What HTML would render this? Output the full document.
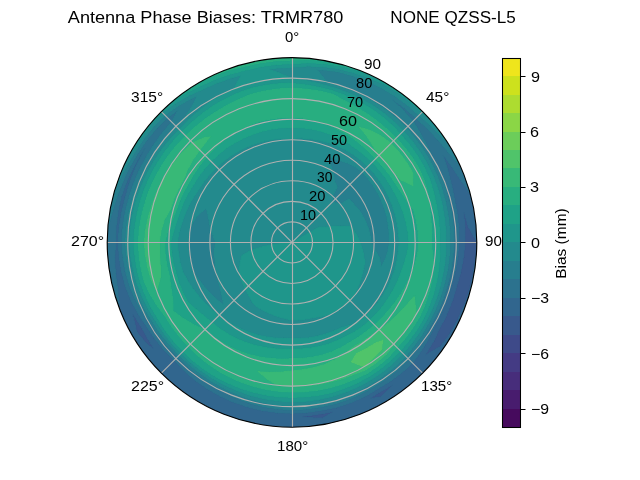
<!DOCTYPE html>
<html><head><meta charset="utf-8"><title>Antenna Phase Biases</title>
<style>
html,body{margin:0;padding:0;background:#fff;}
body{width:640px;height:480px;overflow:hidden;font-family:"Liberation Sans",sans-serif;}
svg{display:block;will-change:transform;}
text{font-family:"Liberation Sans",sans-serif;fill:#000;}
</style></head><body>
<svg width="640" height="480" viewBox="0 0 640 480">
<rect x="0" y="0" width="640" height="480" fill="#ffffff"/>
<defs><clipPath id="c"><circle cx="292.0" cy="242.4" r="184.8"/></clipPath></defs>
<g clip-path="url(#c)">
<circle cx="292.0" cy="242.4" r="184.8" fill="#238a8d"/>
<g shape-rendering="crispEdges" stroke-width="0.4" stroke-linejoin="round">
<path fill="#38598c" stroke="#38598c" d="M463.9 212.1L465.2 227.2L465.3 242.4L463.7 257.4L460.9 272.2L456.9 286.6L452.6 300.8L447.0 314.7L440.2 328.0L433.6 341.5L425.7 354.6L425.7 354.6L425.7 354.6L440.4 346.3L449.8 333.5L457.5 319.6L464.0 305.0L469.3 289.9L472.9 274.3L475.2 258.4L476.8 242.4L476.8 242.4L476.8 242.4L468.2 227.0L463.9 212.1L463.9 212.1ZM392.1 385.4L378.9 392.9L370.3 398.4L381.0 396.5L392.1 385.4L392.1 385.4ZM322.2 413.9L307.2 416.2L302.1 416.6L307.3 417.4L322.9 417.7L332.3 412.2ZM149.5 342.2L142.1 328.9L134.0 316.1L133.0 314.4L133.4 316.3L137.0 331.9L147.1 343.9L153.5 348.6Z"/>
<path fill="#31668e" stroke="#31668e" d="M443.2 155.1L447.9 169.7L451.7 184.3L454.6 198.8L457.4 213.2L459.0 227.8L459.3 242.4L458.0 256.9L455.4 271.2L451.7 285.2L447.4 299.0L441.9 312.3L435.2 325.1L429.0 338.3L421.5 351.1L412.7 363.1L401.7 373.1L389.7 381.9L377.0 389.6L364.2 397.2L350.5 403.0L336.3 407.6L321.6 410.5L306.9 412.7L292.0 413.6L277.1 412.8L262.3 410.7L247.8 407.3L233.7 402.5L220.2 396.4L207.3 389.1L195.2 380.7L184.1 371.0L174.2 360.2L163.7 350.0L154.5 338.7L146.4 326.5L138.1 314.2L131.1 301.0L125.4 287.0L121.5 272.5L119.0 257.5L117.8 242.4L119.0 227.3L121.4 212.3L125.1 197.7L129.3 183.2L134.7 169.1L141.3 155.4L144.8 148.6L140.6 155.0L133.1 168.3L126.7 182.2L121.4 196.7L118.2 211.7L116.3 227.0L116.0 242.4L115.0 257.9L115.7 273.5L117.9 289.0L119.1 305.3L119.5 308.6L124.5 320.5L132.0 334.8L140.6 348.4L150.4 361.2L161.3 373.1L173.2 384.0L186.0 393.8L199.6 402.4L213.9 409.9L228.8 416.1L244.2 420.9L259.9 424.4L275.9 426.5L292.0 427.2L308.1 426.5L324.1 424.4L339.8 420.9L355.2 416.1L370.1 409.9L384.4 402.4L398.0 393.8L410.8 384.0L422.7 373.1L433.6 361.2L443.4 348.4L452.0 334.8L459.5 320.5L465.7 305.6L470.5 290.2L474.0 274.5L476.1 258.5L476.8 242.4L475.2 258.4L472.9 274.3L469.3 289.9L464.0 305.0L457.5 319.6L449.8 333.5L440.4 346.3L425.7 354.6L425.7 354.6L425.7 354.6L433.6 341.5L440.2 328.0L447.0 314.7L452.6 300.8L456.9 286.6L460.9 272.2L463.7 257.4L465.3 242.4L465.2 227.2L463.9 212.1L463.9 212.1L463.9 212.1L468.2 227.0L476.8 242.4L476.1 226.3L474.0 210.3L470.5 194.6L470.5 194.6L461.0 180.9L452.2 167.7L443.2 155.1L443.2 155.1ZM392.1 385.4L392.1 385.4L381.0 396.5L370.3 398.4L378.9 392.9L392.1 385.4ZM332.3 412.2L322.9 417.7L307.3 417.4L302.1 416.6L307.2 416.2L322.2 413.9ZM153.5 348.6L147.1 343.9L137.0 331.9L133.4 316.3L133.0 314.4L134.0 316.1L142.1 328.9L149.5 342.2Z"/>
<path fill="#2c728e" stroke="#2c728e" d="M434.3 160.3L440.5 173.1L445.5 186.5L449.2 200.3L452.1 214.2L453.8 228.2L454.2 242.4L453.3 256.5L451.3 270.5L448.0 284.2L443.9 297.7L438.6 310.8L432.2 323.3L425.3 335.8L417.5 347.7L414.1 352.3L408.9 359.3L398.5 369.4L387.2 378.4L375.1 386.3L362.5 393.5L349.1 399.3L335.3 404.0L321.0 407.1L306.6 409.3L292.0 410.1L277.4 409.1L263.0 406.8L248.9 403.1L235.4 398.0L222.5 391.4L220.7 390.4L210.2 384.2L198.4 376.0L187.4 367.0L177.3 357.1L167.4 346.9L158.4 336.0L150.3 324.2L146.3 318.2L142.3 312.2L135.2 299.5L129.4 286.0L125.4 271.8L122.8 257.2L121.5 242.4L122.6 227.6L124.9 212.9L128.5 198.6L133.0 184.5L138.7 170.9L145.5 157.8L153.2 145.2L161.8 133.2L171.4 121.8L177.4 110.8L167.4 117.8L156.5 128.7L146.7 140.7L138.0 153.5L130.1 166.9L123.3 181.0L117.5 195.6L112.8 210.8L108.4 226.3L107.7 228.6L107.2 242.4L107.9 258.5L110.0 274.5L113.5 290.2L118.3 305.6L119.5 308.6L119.1 305.3L117.9 289.0L115.7 273.5L115.0 257.9L116.0 242.4L116.3 227.0L118.2 211.7L121.4 196.7L126.7 182.2L133.1 168.3L140.6 155.0L144.8 148.6L141.3 155.4L134.7 169.1L129.3 183.2L125.1 197.7L121.4 212.3L119.0 227.3L117.8 242.4L119.0 257.5L121.5 272.5L125.4 287.0L131.1 301.0L138.1 314.2L146.4 326.5L154.5 338.7L163.7 350.0L174.2 360.2L184.1 371.0L195.2 380.7L207.3 389.1L220.2 396.4L233.7 402.5L247.8 407.3L262.3 410.7L277.1 412.8L292.0 413.6L306.9 412.7L321.6 410.5L336.3 407.6L350.5 403.0L364.2 397.2L377.0 389.6L389.7 381.9L401.7 373.1L412.7 363.1L421.5 351.1L429.0 338.3L435.2 325.1L441.9 312.3L447.4 299.0L451.7 285.2L455.4 271.2L458.0 256.9L459.3 242.4L459.0 227.8L457.4 213.2L454.6 198.8L451.7 184.3L447.9 169.7L443.2 155.1L443.2 155.1L443.2 155.1L452.2 167.7L461.0 180.9L470.5 194.6L465.7 179.2L460.7 167.0L458.8 164.6L448.1 152.3L438.0 140.2L427.3 128.9L416.0 118.4L404.5 108.4L392.1 99.4L392.1 99.4L392.1 99.4L403.1 109.9L413.3 121.1L421.1 134.1L428.1 147.1L434.3 160.3Z"/>
<path fill="#277e8e" stroke="#277e8e" d="M332.4 202.0L338.5 203.4L340.2 204.1L349.0 198.7L351.3 200.9L355.5 205.7L359.8 210.8L363.4 216.4L366.4 222.5L368.7 228.9L370.4 235.5L371.5 242.4L373.9 248.8L374.8 249.6L379.8 257.9L381.3 266.3L381.3 266.3L381.3 266.3L385.4 258.9L387.8 250.8L389.1 242.4L389.0 233.9L388.2 225.4L386.7 217.0L384.3 208.8L381.2 200.8L377.4 193.1L372.9 185.7L367.8 178.8L362.2 172.2L355.1 167.2L347.5 163.2L339.2 160.6L331.3 158.1L327.4 157.0L329.6 161.8L333.1 171.3L333.1 171.3L334.8 181.3L337.5 186.7L336.4 189.4L332.7 196.2ZM215.6 270.2L215.2 263.0L214.3 256.1L214.3 249.2L215.6 242.4L212.6 235.5L210.6 231.7L210.1 228.0L208.7 220.1L207.1 211.5L206.0 208.6L203.8 210.3L196.8 216.9L191.9 224.8L190.2 229.0L189.4 233.4L188.2 242.4L188.7 251.4L189.9 260.4L191.9 269.2L194.1 273.3L197.0 277.0L202.6 284.1L208.0 290.9L214.1 296.9L220.6 302.3L223.3 304.2L222.6 300.6L220.8 292.2L219.1 284.5L216.9 277.4L216.1 273.8ZM334.3 84.4L347.9 88.9L360.9 94.6L373.4 101.4L385.3 109.2L396.4 118.0L406.6 127.8L415.7 138.6L423.9 150.1L431.0 162.2L437.0 174.8L441.9 187.9L445.5 201.3L448.3 214.8L449.8 228.6L450.1 242.4L449.5 256.2L447.7 269.9L444.7 283.3L440.8 296.6L435.7 309.4L429.6 321.8L422.7 333.9L414.8 345.4L406.0 356.4L395.9 366.2L384.9 375.1L373.2 383.1L360.8 389.9L347.8 395.7L334.3 400.3L320.4 403.6L306.3 405.8L292.0 406.7L277.7 405.4L263.7 402.9L250.0 399.3L236.7 394.4L223.9 388.5L211.6 381.6L200.0 373.7L189.2 365.0L179.1 355.3L169.5 345.2L160.7 334.3L152.9 322.7L145.4 310.7L138.9 298.1L133.3 284.9L133.3 284.9L129.3 271.1L126.6 256.9L125.2 242.4L126.2 227.9L128.5 213.6L132.0 199.5L136.7 185.9L142.6 172.7L149.7 160.3L149.7 160.3L157.6 148.3L166.5 137.1L176.4 126.8L182.8 119.7L185.7 115.8L194.1 102.5L196.5 96.3L191.4 98.7L177.8 106.3L165.0 115.4L154.0 126.6L144.1 138.9L135.4 152.0L127.1 165.5L119.8 179.7L113.5 194.6L113.5 194.6L110.0 210.3L107.9 226.3L107.7 228.6L108.4 226.3L112.8 210.8L117.5 195.6L123.3 181.0L130.1 166.9L138.0 153.5L146.7 140.7L156.5 128.7L167.4 117.8L177.4 110.8L171.4 121.8L161.8 133.2L153.2 145.2L145.5 157.8L138.7 170.9L133.0 184.5L128.5 198.6L124.9 212.9L122.6 227.6L121.5 242.4L122.8 257.2L125.4 271.8L129.4 286.0L135.2 299.5L142.3 312.2L146.3 318.2L150.3 324.2L158.4 336.0L167.4 346.9L177.3 357.1L187.4 367.0L198.4 376.0L210.2 384.2L220.7 390.4L222.5 391.4L235.4 398.0L248.9 403.1L263.0 406.8L277.4 409.1L292.0 410.1L306.6 409.3L321.0 407.1L335.3 404.0L349.1 399.3L362.5 393.5L375.1 386.3L387.2 378.4L398.5 369.4L408.9 359.3L414.1 352.3L417.5 347.7L425.3 335.8L432.2 323.3L438.6 310.8L443.9 297.7L448.0 284.2L451.3 270.5L453.3 256.5L454.2 242.4L453.8 228.2L452.1 214.2L449.2 200.3L445.5 186.5L440.5 173.1L434.3 160.3L434.3 160.3L428.1 147.1L421.1 134.1L413.3 121.1L403.1 109.9L392.1 99.4L392.1 99.4L392.1 99.4L404.5 108.4L416.0 118.4L427.3 128.9L438.0 140.2L448.1 152.3L458.8 164.6L460.7 167.0L459.5 164.3L452.0 150.0L448.7 144.5L442.1 137.3L430.8 125.9L418.9 115.5L407.1 105.2L394.5 96.0L381.2 87.9L367.1 81.4L352.6 76.0L337.7 71.8L322.4 70.0L317.6 69.8L321.5 75.1L327.6 82.0Z"/>
<path fill="#238a8d" stroke="#238a8d" d="M292.0 242.4L292.0 242.4L292.0 242.4L292.0 242.4L292.0 242.4L292.0 242.4L292.0 242.4L292.0 242.4L292.0 242.4L292.0 242.4L292.0 242.4L292.0 242.4L292.0 242.4L292.0 242.4L292.0 242.4L292.0 242.4L292.0 242.4L292.0 242.4L292.0 242.4L292.0 242.4L292.0 242.4L292.0 242.4L292.0 242.4L292.0 242.4L292.0 242.4L292.0 242.4L292.0 242.4L292.0 242.4L292.0 242.4L292.0 242.4L292.0 242.4L292.0 242.4L292.0 242.4L292.0 242.4L292.0 242.4L292.0 242.4L292.0 242.4L292.0 242.4L292.0 242.4L292.0 242.4L292.0 242.4L292.0 242.4L292.0 242.4L292.0 242.4L292.0 242.4L292.0 242.4L292.0 242.4L292.0 242.4L292.0 242.4L292.0 242.4L292.0 242.4L292.0 242.4L292.0 242.4L292.0 242.4L292.0 242.4L292.0 242.4L292.0 242.4L292.0 242.4L292.0 242.4L292.0 242.4L292.0 242.4L292.0 242.4L292.0 242.4L292.0 242.4L292.0 242.4L292.0 242.4L292.0 242.4L292.0 242.4L292.0 242.4L292.0 242.4L292.0 242.4L292.0 242.4L292.0 232.1L292.0 221.9L292.0 211.6L292.0 201.3L292.0 191.1L292.0 180.8L292.0 170.5L292.0 160.3L292.0 150.0L292.0 139.7L292.0 138.6L282.9 138.7L273.9 139.5L264.9 141.2L256.1 143.7L247.5 147.0L239.3 151.1L231.4 155.8L223.9 161.3L217.0 167.4L210.5 174.0L204.5 181.2L199.3 188.9L194.1 196.7L189.4 205.1L185.4 213.8L182.0 223.0L179.7 230.6L179.3 232.5L177.7 242.4L178.6 252.3L180.3 262.1L182.9 271.6L182.9 271.6L187.6 280.4L193.0 288.5L199.0 296.1L205.3 303.1L212.1 309.5L219.4 315.0L219.4 315.0L226.5 320.4L234.1 325.2L241.9 329.1L250.1 332.3L258.3 334.9L266.8 336.6L275.2 337.8L283.6 338.4L292.0 338.2L300.4 338.3L308.8 337.6L317.1 336.1L325.3 333.8L333.3 331.0L341.1 327.5L349.9 325.0L354.5 323.9L358.4 321.5L365.3 315.7L371.7 309.3L377.7 302.4L383.0 294.9L387.5 286.9L391.3 278.6L394.5 269.9L396.6 260.9L398.1 251.7L398.8 242.4L398.3 233.1L397.0 223.9L395.0 214.8L392.2 205.9L388.7 197.3L384.5 189.0L379.5 181.1L373.9 173.7L367.6 166.8L360.7 160.5L353.3 154.9L345.4 149.9L337.0 145.9L328.3 142.8L319.3 140.5L310.2 139.0L301.1 138.4L292.0 138.6L292.0 139.7L292.0 150.0L292.0 160.3L292.0 170.5L292.0 180.8L292.0 191.1L292.0 201.3L292.0 211.6L292.0 221.9L292.0 232.1L292.0 242.4ZM300.9 237.3L309.8 232.1L318.7 227.0L325.4 226.8L329.8 226.4L336.0 226.4L340.7 226.3L351.5 226.5L351.5 226.5L354.8 231.3L357.8 236.6L360.5 242.4L362.4 248.6L363.3 251.2L363.7 255.0L365.0 262.0L363.8 268.5L362.2 275.1L360.3 281.8L357.7 288.4L354.9 295.2L354.9 295.2L350.6 301.0L345.1 305.7L339.3 309.9L333.1 313.5L333.1 313.5L326.1 315.6L319.2 317.1L312.3 318.1L305.6 319.4L298.8 320.1L292.0 320.3L285.3 318.9L278.8 317.1L272.6 314.9L266.6 312.3L260.8 309.3L255.3 305.9L252.4 302.4L251.3 300.5L248.0 294.8L245.0 289.4L242.6 283.8L240.5 278.5L238.7 273.2L238.7 273.2L239.4 266.9L240.3 261.2L241.3 256.0L242.2 254.9L251.6 249.8L253.1 249.3L261.5 246.6L271.6 244.5L279.0 243.5L281.8 243.2L292.0 242.4L292.0 242.4L292.0 242.4L292.0 242.4L292.0 242.4L292.0 242.4L292.0 242.4L292.0 242.4L292.0 242.4L292.0 242.4L292.0 242.4L292.0 242.4L292.0 242.4L292.0 242.4L292.0 242.4L292.0 242.4L292.0 242.4L292.0 242.4L292.0 242.4L292.0 242.4L292.0 242.4L292.0 242.4L292.0 242.4L292.0 242.4L292.0 242.4L292.0 242.4L292.0 242.4L292.0 242.4L292.0 242.4L292.0 242.4L292.0 242.4L292.0 242.4L292.0 242.4L292.0 242.4L292.0 242.4L292.0 242.4L292.0 242.4L292.0 242.4L292.0 242.4L292.0 242.4L292.0 242.4ZM332.7 196.2L336.4 189.4L337.5 186.7L334.8 181.3L333.1 171.3L333.1 171.3L329.6 161.8L327.4 157.0L331.3 158.1L339.2 160.6L347.5 163.2L355.1 167.2L362.2 172.2L367.8 178.8L372.9 185.7L377.4 193.1L381.2 200.8L384.3 208.8L386.7 217.0L388.2 225.4L389.0 233.9L389.1 242.4L387.8 250.8L385.4 258.9L381.3 266.3L381.3 266.3L381.3 266.3L379.8 257.9L374.8 249.6L373.9 248.8L371.5 242.4L370.4 235.5L368.7 228.9L366.4 222.5L363.4 216.4L359.8 210.8L355.5 205.7L351.3 200.9L349.0 198.7L340.2 204.1L338.5 203.4L332.4 202.0ZM216.1 273.8L216.9 277.4L219.1 284.5L220.8 292.2L222.6 300.6L223.3 304.2L220.6 302.3L214.1 296.9L208.0 290.9L202.6 284.1L197.0 277.0L194.1 273.3L191.9 269.2L189.9 260.4L188.7 251.4L188.2 242.4L189.4 233.4L190.2 229.0L191.9 224.8L196.8 216.9L203.8 210.3L206.0 208.6L207.1 211.5L208.7 220.1L210.1 228.0L210.6 231.7L212.6 235.5L215.6 242.4L214.3 249.2L214.3 256.1L215.2 263.0L215.6 270.2ZM446.0 242.4L446.0 242.4L445.7 255.8L444.1 269.2L441.4 282.4L437.7 295.4L432.9 308.1L426.9 320.3L420.0 332.0L412.1 343.2L403.3 353.7L393.5 363.3L382.8 372.1L371.4 379.9L359.2 386.5L346.5 392.1L333.3 396.5L319.7 399.6L305.9 401.5L292.0 402.2L278.1 401.2L264.4 399.1L250.9 395.8L237.8 391.2L225.2 385.7L213.1 379.1L201.6 371.5L190.9 362.9L180.9 353.5L171.5 343.5L163.0 332.7L155.5 321.2L148.3 309.4L142.0 297.0L136.8 284.0L133.1 270.4L130.5 256.5L129.1 242.4L130.1 228.2L132.4 214.3L135.8 200.5L140.5 187.2L146.2 174.4L153.0 162.2L160.7 150.5L169.4 139.5L179.0 129.4L188.7 119.3L199.3 110.0L210.6 101.4L222.9 94.1L233.1 89.0L235.1 86.1L240.6 75.6L232.1 77.9L217.6 82.9L203.5 89.2L189.2 95.6L175.5 103.6L162.5 112.9L151.5 124.5L141.6 137.1L132.7 150.5L126.7 159.8L124.5 164.3L118.3 179.2L113.5 194.6L119.8 179.7L127.1 165.5L135.4 152.0L144.1 138.9L154.0 126.6L165.0 115.4L177.8 106.3L191.4 98.7L196.5 96.3L194.1 102.5L185.7 115.8L182.8 119.7L176.4 126.8L166.5 137.1L157.6 148.3L149.7 160.3L149.7 160.3L142.6 172.7L136.7 185.9L132.0 199.5L128.5 213.6L126.2 227.9L125.2 242.4L126.6 256.9L129.3 271.1L133.3 284.9L133.3 284.9L138.9 298.1L145.4 310.7L152.9 322.7L160.7 334.3L169.5 345.2L179.1 355.3L189.2 365.0L200.0 373.7L211.6 381.6L223.9 388.5L236.7 394.4L250.0 399.3L263.7 402.9L277.7 405.4L292.0 406.7L306.3 405.8L320.4 403.6L334.3 400.3L347.8 395.7L360.8 389.9L373.2 383.1L384.9 375.1L395.9 366.2L406.0 356.4L414.8 345.4L422.7 333.9L429.6 321.8L435.7 309.4L440.8 296.6L444.7 283.3L447.7 269.9L449.5 256.2L450.1 242.4L449.8 228.6L448.3 214.8L445.5 201.3L441.9 187.9L437.0 174.8L431.0 162.2L423.9 150.1L415.7 138.6L406.6 127.8L396.4 118.0L385.3 109.2L373.4 101.4L360.9 94.6L347.9 88.9L334.3 84.4L327.6 82.0L321.5 75.1L317.6 69.8L322.4 70.0L337.7 71.8L352.6 76.0L367.1 81.4L381.2 87.9L394.5 96.0L407.1 105.2L418.9 115.5L430.8 125.9L442.1 137.3L448.7 144.5L443.4 136.4L433.6 123.6L429.3 118.7L421.8 112.6L409.8 102.0L396.9 92.5L383.3 84.2L368.6 78.1L353.7 73.0L338.5 69.0L322.9 66.9L307.4 66.4L292.0 67.5L292.0 67.9L292.0 78.1L292.0 78.1L306.2 80.4L320.0 83.5L333.5 87.4L346.7 92.0L359.5 97.7L371.7 104.4L383.1 112.3L393.8 121.1L403.6 130.8L412.6 141.2L420.6 152.3L427.7 164.1L433.6 176.4L438.3 189.2L441.9 202.2L444.4 215.5L445.8 228.9L446.0 242.4ZM292.0 78.1L292.0 78.1L292.0 67.9L292.0 67.5L276.8 68.4L269.2 69.4L277.1 71.9L292.0 78.1Z"/>
<path fill="#1f968b" stroke="#1f968b" d="M292.0 242.4L292.0 242.4L292.0 242.4L292.0 242.4L292.0 242.4L292.0 242.4L292.0 242.4L292.0 242.4L292.0 242.4L292.0 242.4L292.0 242.4L292.0 242.4L292.0 242.4L292.0 242.4L292.0 242.4L292.0 242.4L292.0 242.4L292.0 242.4L292.0 242.4L292.0 242.4L292.0 242.4L292.0 242.4L292.0 242.4L292.0 242.4L292.0 242.4L292.0 242.4L292.0 242.4L292.0 242.4L292.0 242.4L292.0 242.4L292.0 242.4L292.0 242.4L292.0 242.4L292.0 242.4L292.0 242.4L292.0 242.4L292.0 242.4L292.0 242.4L292.0 242.4L292.0 242.4L292.0 242.4L281.8 243.2L279.0 243.5L271.6 244.5L261.5 246.6L253.1 249.3L251.6 249.8L242.2 254.9L241.3 256.0L240.3 261.2L239.4 266.9L238.7 273.2L238.7 273.2L240.5 278.5L242.6 283.8L245.0 289.4L248.0 294.8L251.3 300.5L252.4 302.4L255.3 305.9L260.8 309.3L266.6 312.3L272.6 314.9L278.8 317.1L285.3 318.9L292.0 320.3L298.8 320.1L305.6 319.4L312.3 318.1L319.2 317.1L326.1 315.6L333.1 313.5L333.1 313.5L339.3 309.9L345.1 305.7L350.6 301.0L354.9 295.2L354.9 295.2L357.7 288.4L360.3 281.8L362.2 275.1L363.8 268.5L365.0 262.0L363.7 255.0L363.3 251.2L362.4 248.6L360.5 242.4L357.8 236.6L354.8 231.3L351.5 226.5L351.5 226.5L340.7 226.3L336.0 226.4L329.8 226.4L325.4 226.8L318.7 227.0L309.8 232.1L300.9 237.3ZM349.9 325.0L341.1 327.5L333.3 331.0L325.3 333.8L317.1 336.1L308.8 337.6L300.4 338.3L292.0 338.2L283.6 338.4L275.2 337.8L266.8 336.6L258.3 334.9L250.1 332.3L241.9 329.1L234.1 325.2L226.5 320.4L219.4 315.0L219.4 315.0L212.1 309.5L205.3 303.1L199.0 296.1L193.0 288.5L187.6 280.4L182.9 271.6L182.9 271.6L180.3 262.1L178.6 252.3L177.7 242.4L179.3 232.5L179.7 230.6L182.0 223.0L185.4 213.8L189.4 205.1L194.1 196.7L199.3 188.9L204.5 181.2L210.5 174.0L217.0 167.4L223.9 161.3L231.4 155.8L239.3 151.1L247.5 147.0L256.1 143.7L264.9 141.2L273.9 139.5L282.9 138.7L292.0 138.6L292.0 129.5L292.0 127.6L282.0 128.0L272.1 129.3L262.3 131.5L252.8 134.6L243.5 138.5L234.7 143.1L226.3 148.6L218.5 154.8L211.2 161.6L204.6 169.1L198.6 177.0L193.4 185.4L188.1 194.0L183.7 203.0L180.1 212.4L176.7 222.1L173.7 232.1L170.9 242.4L171.8 252.9L173.6 263.3L176.3 273.4L179.4 283.4L183.4 293.0L188.3 302.3L196.4 309.3L204.3 316.0L212.1 322.3L212.1 322.3L219.8 328.4L228.0 333.8L236.6 338.4L245.5 342.1L254.7 344.9L264.0 347.0L273.3 348.4L282.7 349.0L292.0 348.8L301.3 348.7L310.6 347.8L319.8 346.1L328.8 343.6L337.6 340.2L346.1 336.1L354.5 331.7L362.4 326.4L369.7 320.1L376.5 313.3L382.7 305.9L388.2 298.0L393.2 289.6L397.5 280.8L401.1 271.6L401.1 271.6L404.5 262.2L407.1 252.5L408.7 242.4L407.7 232.3L405.8 222.3L403.1 212.6L399.3 203.3L395.1 194.3L390.2 185.7L384.8 177.4L378.6 169.7L371.9 162.5L364.7 155.8L357.0 149.6L348.8 144.0L340.1 139.2L331.1 135.0L321.7 131.7L311.9 129.4L302.0 128.1L292.0 127.6L292.0 129.5L292.0 138.6L301.1 138.4L310.2 139.0L319.3 140.5L328.3 142.8L337.0 145.9L345.4 149.9L353.3 154.9L360.7 160.5L367.6 166.8L373.9 173.7L379.5 181.1L384.5 189.0L388.7 197.3L392.2 205.9L395.0 214.8L397.0 223.9L398.3 233.1L398.8 242.4L398.1 251.7L396.6 260.9L394.5 269.9L391.3 278.6L387.5 286.9L383.0 294.9L377.7 302.4L371.7 309.3L365.3 315.7L358.4 321.5L354.5 323.9ZM400.5 133.9L409.3 144.0L417.1 154.8L424.0 166.2L429.5 178.3L433.6 190.9L436.4 203.7L438.6 216.5L439.7 229.5L439.6 242.4L440.0 255.3L439.1 268.3L437.0 281.2L433.8 294.0L429.4 306.5L423.9 318.5L417.1 330.0L409.3 340.8L400.6 351.0L393.3 358.4L391.1 360.5L380.7 369.1L369.6 376.7L357.6 383.1L345.2 388.4L332.3 392.7L319.0 395.6L305.5 397.2L292.0 397.7L278.5 397.1L265.1 395.2L251.9 392.2L239.0 388.1L226.5 382.8L214.6 376.5L203.2 369.2L192.6 360.8L182.7 351.7L173.6 341.7L165.4 331.1L158.1 319.7L151.2 308.1L145.2 295.8L140.2 283.1L136.8 269.8L134.6 256.2L133.5 242.4L134.5 228.6L136.6 215.0L139.9 201.7L144.3 188.7L149.8 176.1L156.3 164.1L163.8 152.6L172.2 141.9L181.5 131.9L191.3 122.4L201.8 113.6L213.0 105.6L225.0 98.8L237.6 92.9L250.7 88.1L264.3 85.2L278.1 83.5L292.0 83.0L292.0 78.1L292.0 78.1L277.1 71.9L269.2 69.4L276.8 68.4L292.0 67.5L292.0 64.0L276.5 64.8L261.1 66.9L245.9 70.4L230.8 74.2L216.0 79.3L201.6 85.8L187.1 92.6L173.2 100.8L173.2 100.8L161.3 111.7L150.4 123.6L140.6 136.4L132.0 150.0L126.7 159.8L132.7 150.5L141.6 137.1L151.5 124.5L162.5 112.9L175.5 103.6L189.2 95.6L203.5 89.2L217.6 82.9L232.1 77.9L240.6 75.6L235.1 86.1L233.1 89.0L222.9 94.1L210.6 101.4L199.3 110.0L188.7 119.3L179.0 129.4L169.4 139.5L160.7 150.5L153.0 162.2L146.2 174.4L140.5 187.2L135.8 200.5L132.4 214.3L130.1 228.2L129.1 242.4L130.5 256.5L133.1 270.4L136.8 284.0L142.0 297.0L148.3 309.4L155.5 321.2L163.0 332.7L171.5 343.5L180.9 353.5L190.9 362.9L201.6 371.5L213.1 379.1L225.2 385.7L237.8 391.2L250.9 395.8L264.4 399.1L278.1 401.2L292.0 402.2L305.9 401.5L319.7 399.6L333.3 396.5L346.5 392.1L359.2 386.5L371.4 379.9L382.8 372.1L393.5 363.3L403.3 353.7L412.1 343.2L420.0 332.0L426.9 320.3L432.9 308.1L437.7 295.4L441.4 282.4L444.1 269.2L445.7 255.8L446.0 242.4L446.0 242.4L446.0 242.4L445.8 228.9L444.4 215.5L441.9 202.2L438.3 189.2L433.6 176.4L427.7 164.1L420.6 152.3L412.6 141.2L403.6 130.8L393.8 121.1L383.1 112.3L371.7 104.4L359.5 97.7L346.7 92.0L333.5 87.4L320.0 83.5L306.2 80.4L292.0 78.1L292.0 83.0L305.8 84.6L319.4 87.1L332.7 90.5L345.6 95.1L358.0 100.8L369.9 107.5L381.0 115.3L391.2 124.1L396.0 128.9ZM307.4 66.4L322.9 66.9L338.5 69.0L353.7 73.0L368.6 78.1L383.3 84.2L396.9 92.5L409.8 102.0L421.8 112.6L429.3 118.7L422.7 111.7L410.8 100.8L398.0 91.0L384.4 82.4L370.1 74.9L367.8 73.9L354.8 69.9L339.2 66.2L323.5 63.9L307.7 63.1L292.0 64.0L292.0 67.5Z"/>
<path fill="#1fa287" stroke="#1fa287" d="M397.5 280.8L393.2 289.6L388.2 298.0L382.7 305.9L376.5 313.3L369.7 320.1L362.4 326.4L354.5 331.7L346.1 336.1L337.6 340.2L328.8 343.6L319.8 346.1L310.6 347.8L301.3 348.7L292.0 348.8L282.7 349.0L273.3 348.4L264.0 347.0L254.7 344.9L245.5 342.1L236.6 338.4L228.0 333.8L219.8 328.4L212.1 322.3L212.1 322.3L204.3 316.0L196.4 309.3L188.3 302.3L183.4 293.0L179.4 283.4L176.3 273.4L173.6 263.3L171.8 252.9L170.9 242.4L173.7 232.1L176.7 222.1L180.1 212.4L183.7 203.0L188.1 194.0L193.4 185.4L198.6 177.0L204.6 169.1L211.2 161.6L218.5 154.8L226.3 148.6L234.7 143.1L243.5 138.5L252.8 134.6L262.3 131.5L272.1 129.3L282.0 128.0L292.0 127.6L292.0 119.2L292.0 117.5L281.1 118.0L270.3 119.4L259.7 121.7L249.5 125.6L239.7 130.3L230.4 135.7L230.4 135.7L221.9 142.3L214.0 149.5L206.7 157.1L200.1 165.3L194.3 174.0L189.1 183.0L184.0 192.0L179.6 201.5L176.2 211.4L172.1 221.3L169.7 227.4L167.9 231.5L165.0 242.4L165.5 253.5L167.0 264.4L169.5 275.2L171.1 286.4L172.8 298.0L173.4 303.6L173.5 310.8L181.0 316.6L183.6 318.3L194.1 324.5L204.9 329.5L204.9 329.5L213.2 336.3L222.1 342.2L231.4 347.3L241.1 351.5L251.1 354.7L261.3 357.0L271.6 358.3L281.8 358.8L292.0 358.4L302.1 358.1L312.2 356.9L322.1 354.8L331.7 351.5L341.0 347.4L349.6 342.2L358.3 337.0L366.4 331.1L374.3 324.7L381.7 317.7L388.6 310.0L395.0 301.9L400.9 293.2L406.3 284.0L411.0 274.3L411.0 274.3L414.8 264.0L417.3 253.4L418.6 242.4L417.8 231.4L415.9 220.5L413.2 209.9L409.4 205.2L406.4 200.7L400.5 191.8L394.7 183.1L388.9 174.5L382.4 166.5L375.3 159.1L368.2 151.6L360.5 144.6L352.2 138.1L343.2 132.5L333.8 127.6L323.9 123.4L323.9 123.4L313.5 120.5L302.8 118.5L292.0 117.5L292.0 119.2L292.0 127.6L302.0 128.1L311.9 129.4L321.7 131.7L331.1 135.0L340.1 139.2L348.8 144.0L357.0 149.6L364.7 155.8L371.9 162.5L378.6 169.7L384.8 177.4L390.2 185.7L395.1 194.3L399.3 203.3L403.1 212.6L405.8 222.3L407.7 232.3L408.7 242.4L407.1 252.5L404.5 262.2L401.1 271.6L401.1 271.6ZM429.6 205.5L431.2 217.9L431.9 230.2L431.6 242.4L433.0 254.7L434.1 263.8L433.9 267.4L432.3 280.0L429.4 292.4L425.4 304.6L420.2 316.4L413.5 327.5L405.9 338.0L397.4 347.8L388.7 357.6L378.5 366.0L367.7 373.5L355.7 379.1L343.5 384.0L331.0 387.8L318.1 390.5L305.1 392.0L292.0 392.4L278.9 391.6L266.0 389.7L253.3 386.7L241.0 382.5L229.1 377.3L217.8 371.0L207.1 363.7L197.1 355.5L187.9 346.5L179.3 337.0L171.5 326.8L164.6 316.0L156.6 305.5L149.7 294.2L144.0 282.1L140.8 269.1L138.8 255.8L138.0 242.4L139.0 229.0L141.2 215.8L144.7 202.9L148.9 190.3L154.3 178.2L160.7 166.6L168.0 155.6L176.2 145.3L185.3 135.7L195.0 126.7L205.3 118.6L216.3 111.3L227.7 104.5L239.7 98.7L252.1 93.6L252.1 93.6L265.2 90.6L278.5 88.6L292.0 87.9L292.0 83.0L278.1 83.5L264.3 85.2L250.7 88.1L237.6 92.9L225.0 98.8L213.0 105.6L201.8 113.6L191.3 122.4L181.5 131.9L172.2 141.9L163.8 152.6L156.3 164.1L149.8 176.1L144.3 188.7L139.9 201.7L136.6 215.0L134.5 228.6L133.5 242.4L134.6 256.2L136.8 269.8L140.2 283.1L145.2 295.8L151.2 308.1L158.1 319.7L165.4 331.1L173.6 341.7L182.7 351.7L192.6 360.8L203.2 369.2L214.6 376.5L226.5 382.8L239.0 388.1L251.9 392.2L265.1 395.2L278.5 397.1L292.0 397.7L305.5 397.2L319.0 395.6L332.3 392.7L345.2 388.4L357.6 383.1L369.5 376.7L380.7 369.1L391.1 360.5L393.3 358.4L400.6 351.0L409.3 340.8L417.1 330.0L423.9 318.5L429.4 306.5L433.8 294.0L437.0 281.2L439.1 268.3L440.0 255.3L439.6 242.4L439.7 229.5L438.6 216.5L436.4 203.7L433.6 190.9L429.5 178.3L424.0 166.2L417.1 154.8L409.3 144.0L400.5 133.9L396.0 128.9L391.2 124.1L381.0 115.3L369.9 107.5L358.0 100.8L345.6 95.1L332.7 90.5L319.4 87.1L305.8 84.6L292.0 83.0L292.0 87.9L305.4 88.7L318.8 90.6L331.9 93.6L331.9 93.6L343.9 99.8L355.5 106.2L366.7 113.1L377.2 120.7L387.2 128.9L396.5 137.9L405.1 147.5L412.8 157.8L419.6 168.7L424.6 180.6L428.1 192.9L429.6 201.0ZM307.7 63.1L323.5 63.9L339.2 66.2L354.8 69.9L367.8 73.9L355.2 68.7L339.8 63.9L330.4 61.6L324.0 60.8L308.0 59.8L292.0 60.4L292.0 64.0ZM187.1 92.6L201.6 85.8L216.0 79.3L230.8 74.2L245.9 70.4L261.1 66.9L276.5 64.8L292.0 64.0L292.0 60.4L276.1 61.1L260.4 63.2L244.9 66.6L229.4 70.5L214.3 75.7L199.6 82.4L199.6 82.4L186.0 91.0L173.2 100.8Z"/>
<path fill="#28ae80" stroke="#28ae80" d="M333.8 127.6L343.2 132.5L352.2 138.1L360.5 144.6L368.2 151.6L375.3 159.1L382.4 166.5L388.9 174.5L394.7 183.1L400.5 191.8L406.4 200.7L409.4 205.2L413.2 209.9L415.9 220.5L417.8 231.4L418.6 242.4L417.3 253.4L414.8 264.0L411.0 274.3L411.0 274.3L406.3 284.0L400.9 293.2L395.0 301.9L388.6 310.0L381.7 317.7L374.3 324.7L366.4 331.1L358.3 337.0L349.6 342.2L341.0 347.4L331.7 351.5L322.1 354.8L312.2 356.9L302.1 358.1L292.0 358.4L281.8 358.8L271.6 358.3L261.3 357.0L251.1 354.7L241.1 351.5L231.4 347.3L222.1 342.2L213.2 336.3L204.9 329.5L204.9 329.5L194.1 324.5L183.6 318.3L181.0 316.6L173.5 310.8L173.4 303.6L172.8 298.0L171.1 286.4L169.5 275.2L167.0 264.4L165.5 253.5L165.0 242.4L167.9 231.5L169.7 227.4L172.1 221.3L176.2 211.4L179.6 201.5L184.0 192.0L189.1 183.0L194.3 174.0L200.1 165.3L206.7 157.1L214.0 149.5L221.9 142.3L230.4 135.7L230.4 135.7L239.7 130.3L249.5 125.6L259.7 121.7L270.3 119.4L281.1 118.0L292.0 117.5L292.0 108.9L292.0 98.7L292.0 88.4L292.0 87.9L278.5 88.6L265.2 90.6L252.1 93.6L252.1 93.6L239.7 98.7L227.7 104.5L216.3 111.3L205.3 118.6L195.0 126.7L185.3 135.7L176.2 145.3L168.0 155.6L160.7 166.6L154.3 178.2L148.9 190.3L144.7 202.9L141.2 215.8L139.0 229.0L138.0 242.4L138.8 255.8L140.8 269.1L144.0 282.1L149.7 294.2L156.6 305.5L164.6 316.0L171.5 326.8L179.3 337.0L187.9 346.5L197.1 355.5L207.1 363.7L217.8 371.0L229.1 377.3L241.0 382.5L253.3 386.7L266.0 389.7L278.9 391.6L292.0 392.4L305.1 392.0L318.1 390.5L331.0 387.8L343.5 384.0L355.7 379.1L367.7 373.5L378.5 366.0L388.7 357.6L397.4 347.8L405.9 338.0L413.5 327.5L420.2 316.4L425.4 304.6L429.4 292.4L432.3 280.0L433.9 267.4L434.1 263.8L433.0 254.7L431.6 242.4L431.9 230.2L431.2 217.9L429.6 205.5L429.6 201.0L428.1 192.9L424.6 180.6L419.6 168.7L412.8 157.8L405.1 147.5L396.5 137.9L387.2 128.9L377.2 120.7L366.7 113.1L355.5 106.2L343.9 99.8L331.9 93.6L331.9 93.6L318.8 90.6L305.4 88.7L292.0 87.9L292.0 88.4L292.0 98.7L292.0 108.9L292.0 117.5L302.8 118.5L313.5 120.5L323.9 123.4L323.9 123.4ZM375.8 152.1L372.8 146.1L366.5 136.0L358.7 126.8L370.6 130.1L381.4 135.9L391.2 143.2L399.4 152.3L406.7 162.1L413.1 172.5L413.0 186.0L400.2 179.9L393.4 171.4L389.7 167.4L386.2 163.3L378.8 155.6ZM379.1 329.5L379.1 329.5L388.0 323.0L396.4 315.5L404.3 307.2L412.1 298.4L414.3 295.8L415.0 299.8L416.5 314.3L416.5 314.3L410.0 325.0L402.6 335.2L394.3 344.7L386.3 354.8L376.4 362.9L365.8 370.2L353.7 374.8L341.8 379.2L329.5 382.3L317.1 384.9L304.6 386.4L292.0 386.7L279.5 385.7L277.0 385.3L267.8 379.9L257.5 371.3L269.1 372.2L280.7 371.9L292.0 370.7L303.1 369.4L314.0 367.3L324.6 364.2L334.6 359.5L344.1 354.1L344.1 354.1L352.5 347.1L361.6 341.9L370.4 335.8ZM160.6 265.6L160.6 265.6L160.6 277.6L156.9 291.6L151.0 280.2L147.5 267.9L145.2 255.2L144.0 242.4L145.4 229.6L148.0 217.0L151.7 204.8L156.0 192.9L161.3 181.4L167.5 170.5L167.5 170.5L174.9 160.4L183.1 151.0L192.2 142.6L204.0 137.5L210.8 136.5L207.0 141.1L200.0 150.4L193.4 159.6L187.9 169.5L183.8 179.9L178.5 189.5L174.0 199.5L170.5 209.8L164.6 219.9L161.3 231.0L159.6 242.4L159.6 254.0ZM308.0 59.8L324.0 60.8L330.4 61.6L324.1 60.4L308.1 58.3L292.0 57.6L292.0 60.4ZM214.3 75.7L229.4 70.5L244.9 66.6L260.4 63.2L276.1 61.1L292.0 60.4L292.0 57.6L275.9 58.3L259.9 60.4L244.2 63.9L228.8 68.7L213.9 74.9L199.6 82.4Z"/>
<path fill="#38b977" stroke="#38b977" d="M378.8 155.6L386.2 163.3L389.7 167.4L393.4 171.4L400.2 179.9L413.0 186.0L413.1 172.5L406.7 162.1L399.4 152.3L391.2 143.2L381.4 135.9L370.6 130.1L358.7 126.8L366.5 136.0L372.8 146.1L375.8 152.1ZM370.4 335.8L361.6 341.9L352.5 347.1L344.1 354.1L344.1 354.1L334.6 359.5L324.6 364.2L314.0 367.3L303.1 369.4L292.0 370.7L280.7 371.9L269.1 372.2L257.5 371.3L267.8 379.9L277.0 385.3L279.5 385.7L292.0 386.7L304.6 386.4L317.1 384.9L329.5 382.3L341.8 379.2L353.7 374.8L365.8 370.2L376.4 362.9L386.3 354.8L394.3 344.7L402.6 335.2L410.0 325.0L416.5 314.3L416.5 314.3L415.0 299.8L414.3 295.8L412.1 298.4L404.3 307.2L396.4 315.5L388.0 323.0L379.1 329.5L379.1 329.5ZM383.0 340.0L381.8 349.4L373.4 358.6L363.9 366.9L351.0 362.1L356.2 353.5L366.2 348.4L376.0 342.5ZM159.6 254.0L159.6 242.4L161.3 231.0L164.6 219.9L170.5 209.8L174.0 199.5L178.5 189.5L183.8 179.9L187.9 169.5L193.4 159.6L200.0 150.4L207.0 141.1L210.8 136.5L204.0 137.5L192.2 142.6L183.1 151.0L174.9 160.4L167.5 170.5L167.5 170.5L161.3 181.4L156.0 192.9L151.7 204.8L148.0 217.0L145.4 229.6L144.0 242.4L145.2 255.2L147.5 267.9L151.0 280.2L156.9 291.6L160.6 277.6L160.6 265.6L160.6 265.6Z"/>
<path fill="#50c46a" stroke="#50c46a" d="M376.0 342.5L366.2 348.4L356.2 353.5L351.0 362.1L363.9 366.9L373.4 358.6L381.8 349.4L383.0 340.0Z"/>
</g>
<g fill="none" stroke="#b0b0b0" stroke-width="1.11">
<circle cx="292.0" cy="242.4" r="20.53"/>
<circle cx="292.0" cy="242.4" r="41.07"/>
<circle cx="292.0" cy="242.4" r="61.60"/>
<circle cx="292.0" cy="242.4" r="82.13"/>
<circle cx="292.0" cy="242.4" r="102.67"/>
<circle cx="292.0" cy="242.4" r="123.20"/>
<circle cx="292.0" cy="242.4" r="143.73"/>
<circle cx="292.0" cy="242.4" r="164.27"/>
<line x1="292.50" y1="242.40" x2="292.50" y2="57.60"/>
<line x1="292.00" y1="242.40" x2="422.67" y2="111.73"/>
<line x1="292.00" y1="242.50" x2="476.80" y2="242.50"/>
<line x1="292.00" y1="242.40" x2="422.67" y2="373.07"/>
<line x1="292.50" y1="242.40" x2="292.50" y2="427.20"/>
<line x1="292.00" y1="242.40" x2="161.33" y2="373.07"/>
<line x1="292.00" y1="242.50" x2="107.20" y2="242.50"/>
<line x1="292.00" y1="242.40" x2="161.33" y2="111.73"/>
</g>
</g>
<text x="285.00" y="42.00" font-size="14.1" textLength="14.28" lengthAdjust="spacingAndGlyphs">0°</text>
<text x="426.00" y="102.00" font-size="14.1" textLength="23.34" lengthAdjust="spacingAndGlyphs">45°</text>
<text x="485.00" y="246.00" font-size="14.1" textLength="23.00" lengthAdjust="spacingAndGlyphs">90°</text>
<text x="421.00" y="391.00" font-size="14.1" textLength="31.20" lengthAdjust="spacingAndGlyphs">135°</text>
<text x="277.00" y="451.00" font-size="14.1" textLength="31.20" lengthAdjust="spacingAndGlyphs">180°</text>
<text x="131.00" y="391.00" font-size="14.1" textLength="33.10" lengthAdjust="spacingAndGlyphs">225°</text>
<text x="71.00" y="246.00" font-size="14.1" textLength="33.10" lengthAdjust="spacingAndGlyphs">270°</text>
<text x="131.00" y="102.00" font-size="14.1" textLength="32.10" lengthAdjust="spacingAndGlyphs">315°</text>
<text x="300.00" y="220.00" font-size="14.1" textLength="16.15" lengthAdjust="spacingAndGlyphs">10</text>
<text x="309.00" y="201.00" font-size="14.1" textLength="16.35" lengthAdjust="spacingAndGlyphs">20</text>
<text x="317.00" y="182.00" font-size="14.1" textLength="15.34" lengthAdjust="spacingAndGlyphs">30</text>
<text x="324.00" y="164.00" font-size="14.1" textLength="16.35" lengthAdjust="spacingAndGlyphs">40</text>
<text x="331.00" y="145.00" font-size="14.1" textLength="16.15" lengthAdjust="spacingAndGlyphs">50</text>
<text x="339.00" y="126.00" font-size="14.1" textLength="18.00" lengthAdjust="spacingAndGlyphs">60</text>
<text x="347.00" y="107.00" font-size="14.1" textLength="16.15" lengthAdjust="spacingAndGlyphs">70</text>
<text x="356.00" y="88.00" font-size="14.1" textLength="16.35" lengthAdjust="spacingAndGlyphs">80</text>
<text x="364.00" y="69.00" font-size="14.1" textLength="17.00" lengthAdjust="spacingAndGlyphs">90</text>
<circle cx="292.0" cy="242.4" r="184.8" fill="none" stroke="#000" stroke-width="1.11"/>
<g shape-rendering="crispEdges">
<rect x="502" y="58" width="19" height="18" fill="#efe51c"/>
<rect x="502" y="76" width="19" height="19" fill="#cde11d"/>
<rect x="502" y="95" width="19" height="18" fill="#addc30"/>
<rect x="502" y="113" width="19" height="19" fill="#8bd646"/>
<rect x="502" y="132" width="19" height="18" fill="#6ccd5a"/>
<rect x="502" y="150" width="19" height="18" fill="#50c46a"/>
<rect x="502" y="168" width="19" height="19" fill="#38b977"/>
<rect x="502" y="187" width="19" height="18" fill="#28ae80"/>
<rect x="502" y="205" width="19" height="19" fill="#1fa287"/>
<rect x="502" y="224" width="19" height="18" fill="#1f968b"/>
<rect x="502" y="242" width="19" height="19" fill="#238a8d"/>
<rect x="502" y="261" width="19" height="18" fill="#277e8e"/>
<rect x="502" y="279" width="19" height="19" fill="#2c728e"/>
<rect x="502" y="298" width="19" height="18" fill="#31668e"/>
<rect x="502" y="316" width="19" height="19" fill="#38598c"/>
<rect x="502" y="335" width="19" height="18" fill="#3e4a89"/>
<rect x="502" y="353" width="19" height="19" fill="#443b84"/>
<rect x="502" y="372" width="19" height="18" fill="#472d7b"/>
<rect x="502" y="390" width="19" height="19" fill="#481c6e"/>
<rect x="502" y="409" width="19" height="19" fill="#460a5d"/>
</g>
<rect x="502.5" y="58.5" width="18" height="369" fill="none" stroke="#000" stroke-width="1.06"/>
<g stroke="#000" stroke-width="1.06">
<line x1="521" y1="76.5" x2="525.5" y2="76.5"/>
<line x1="521" y1="132.5" x2="525.5" y2="132.5"/>
<line x1="521" y1="187.5" x2="525.5" y2="187.5"/>
<line x1="521" y1="242.5" x2="525.5" y2="242.5"/>
<line x1="521" y1="298.5" x2="525.5" y2="298.5"/>
<line x1="521" y1="353.5" x2="525.5" y2="353.5"/>
<line x1="521" y1="409.5" x2="525.5" y2="409.5"/>
</g>
<text x="531.00" y="82.00" font-size="14.1" textLength="9.00" lengthAdjust="spacingAndGlyphs">9</text>
<text x="530.00" y="137.00" font-size="14.1" textLength="9.00" lengthAdjust="spacingAndGlyphs">6</text>
<text x="530.00" y="192.00" font-size="14.1" textLength="9.00" lengthAdjust="spacingAndGlyphs">3</text>
<text x="531.00" y="248.00" font-size="14.1" textLength="9.00" lengthAdjust="spacingAndGlyphs">0</text>
<text x="531.00" y="303.00" font-size="14.1" textLength="18.00" lengthAdjust="spacingAndGlyphs">−3</text>
<text x="531.00" y="359.00" font-size="14.1" textLength="18.00" lengthAdjust="spacingAndGlyphs">−6</text>
<text x="531.00" y="414.00" font-size="14.1" textLength="18.00" lengthAdjust="spacingAndGlyphs">−9</text>
<text style="white-space:pre" xml:space="preserve" y="23.00" font-size="17.4"><tspan x="67.80" textLength="275.50" lengthAdjust="spacingAndGlyphs">Antenna Phase Biases: TRMR780</tspan><tspan>         </tspan><tspan x="390.30" textLength="125.50" lengthAdjust="spacingAndGlyphs">NONE QZSS-L5</tspan></text>
<text transform="translate(566.00 278.80) rotate(-90)" font-size="13.9" textLength="70.50" lengthAdjust="spacingAndGlyphs">Bias (mm)</text>
</svg>
</body></html>
